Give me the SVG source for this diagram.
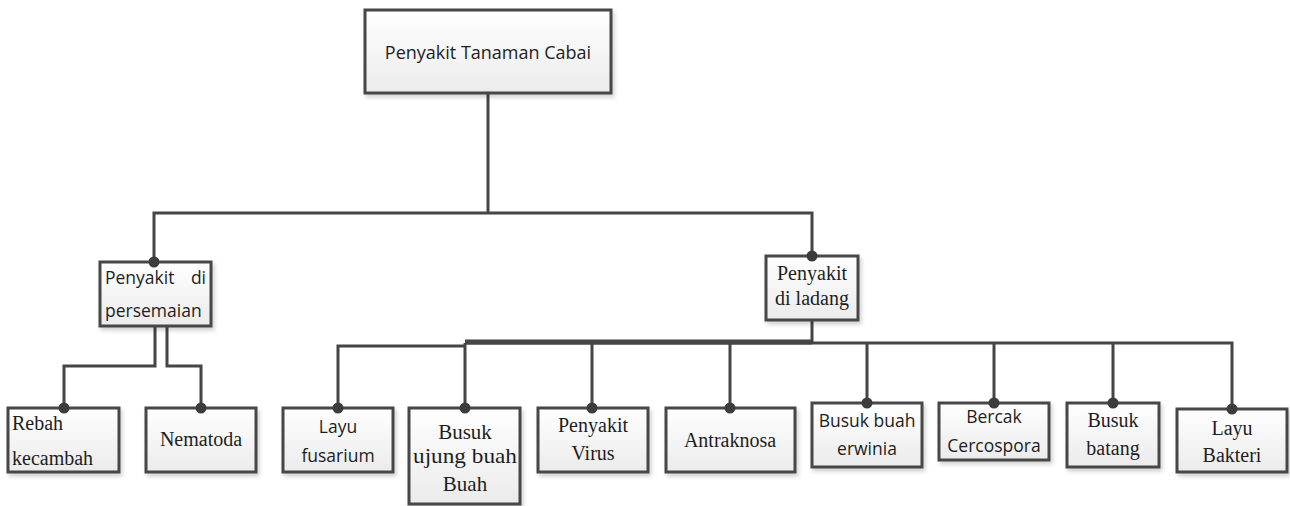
<svg xmlns="http://www.w3.org/2000/svg" width="1290" height="506" viewBox="0 0 1290 506">
<defs>
<linearGradient id="g" x1="0" y1="0" x2="0" y2="1">
<stop offset="0" stop-color="#ffffff"/>
<stop offset="1" stop-color="#ebebeb"/>
</linearGradient>
<filter id="sh" x="-10%" y="-10%" width="125%" height="130%">
<feDropShadow dx="2" dy="3" stdDeviation="2" flood-color="#000" flood-opacity="0.18"/>
</filter>
</defs>
<style>
.box{fill:url(#g);stroke:#474747;stroke-width:3;filter:url(#sh)}
.ln{fill:none;stroke:#454545;stroke-width:3}
.dot{fill:#3c3c3c}
.sans{font-family:"Open Sans","Noto Sans",sans-serif;font-size:17.5px;fill:#1e1e1e}
.serif{font-family:"Liberation Serif","Times New Roman",serif;font-size:20px;fill:#1e1e1e}
.c{text-anchor:middle}
</style>
<rect width="1290" height="506" fill="#ffffff"/>
<g id="connectors">
<path class="ln" d="M488,93 V213"/>
<path class="ln" d="M154,262 V213 H812 V256"/>
<path class="ln" d="M155,326 V366 H64 V408"/>
<path class="ln" d="M167,326 V366 H201 V408"/>
<path class="ln" d="M812,320 V344"/>
<path class="ln" d="M338,408 V346 H465"/>
<path class="ln" d="M465,343 H1232 V409"/>
<path class="ln" style="stroke-width:5" d="M465,342 H812"/>
<path class="ln" d="M465,343 V408 M592,343 V408 M730,343 V408 M867,343 V403 M994,343 V403 M1113,343 V403"/>
</g>
<g id="root">
<rect class="box" x="365" y="10" width="246" height="83"/>
<text class="sans c" x="488" y="59" style="font-size:18px">Penyakit Tanaman Cabai</text>
</g>
<g id="persemaian">
<rect class="box" x="100" y="262" width="111" height="64"/>
<text class="sans" x="105" y="284">Penyakit</text>
<text class="sans" x="206" y="284" text-anchor="end">di</text>
<text class="sans" x="105" y="317">persemaian</text>
</g>
<g id="ladang">
<rect class="box" x="766" y="256" width="92" height="64"/>
<text class="serif c" x="812" y="280">Penyakit</text>
<text class="serif c" x="812" y="305">di ladang</text>
</g>
<g id="rebah">
<rect class="box" x="8" y="408" width="111" height="64"/>
<text class="serif" x="12" y="430">Rebah</text>
<text class="serif" x="12" y="465">kecambah</text>
</g>
<g id="nematoda">
<rect class="box" x="146" y="408" width="110" height="64"/>
<text class="serif c" x="201" y="446">Nematoda</text>
</g>
<g id="fusarium">
<rect class="box" x="283" y="408" width="110" height="64"/>
<text class="sans c" x="338" y="433">Layu</text>
<text class="sans c" x="338" y="462">fusarium</text>
</g>
<g id="ujung">
<rect class="box" x="409" y="408" width="111" height="96"/>
<text class="serif c" x="465" y="439" style="font-size:21px">Busuk</text>
<text class="serif c" x="465" y="463" style="font-size:21px" textLength="104" lengthAdjust="spacingAndGlyphs">ujung buah</text>
<text class="serif c" x="465" y="491" style="font-size:21px">Buah</text>
</g>
<g id="virus">
<rect class="box" x="538" y="408" width="110" height="64"/>
<text class="serif c" x="593" y="432">Penyakit</text>
<text class="serif c" x="593" y="460">Virus</text>
</g>
<g id="antraknosa">
<rect class="box" x="666" y="408" width="129" height="64"/>
<text class="serif c" x="730" y="447">Antraknosa</text>
</g>
<g id="erwinia">
<rect class="box" x="812" y="403" width="110" height="64"/>
<text class="sans c" x="867" y="427">Busuk buah</text>
<text class="sans c" x="867" y="455">erwinia</text>
</g>
<g id="cercospora">
<rect class="box" x="939" y="403" width="110" height="57"/>
<text class="sans c" x="994" y="423">Bercak</text>
<text class="sans c" x="994" y="452">Cercospora</text>
</g>
<g id="batang">
<rect class="box" x="1067" y="403" width="92" height="64"/>
<text class="serif c" x="1113" y="427">Busuk</text>
<text class="serif c" x="1113" y="455">batang</text>
</g>
<g id="bakteri">
<rect class="box" x="1177" y="409" width="110" height="63"/>
<text class="serif c" x="1232" y="435">Layu</text>
<text class="serif c" x="1232" y="462">Bakteri</text>
</g>
<g id="connector-dots">
<circle class="dot" cx="154" cy="262" r="5.5"/>
<circle class="dot" cx="812" cy="256" r="5.5"/>
<circle class="dot" cx="64" cy="408" r="5.5"/>
<circle class="dot" cx="201" cy="408" r="5.5"/>
<circle class="dot" cx="338" cy="408" r="5.5"/>
<circle class="dot" cx="465" cy="408" r="5.5"/>
<circle class="dot" cx="592" cy="408" r="5.5"/>
<circle class="dot" cx="730" cy="408" r="5.5"/>
<circle class="dot" cx="867" cy="403" r="5.5"/>
<circle class="dot" cx="994" cy="403" r="5.5"/>
<circle class="dot" cx="1113" cy="403" r="5.5"/>
<circle class="dot" cx="1232" cy="409" r="5.5"/>
</g>
</svg>
